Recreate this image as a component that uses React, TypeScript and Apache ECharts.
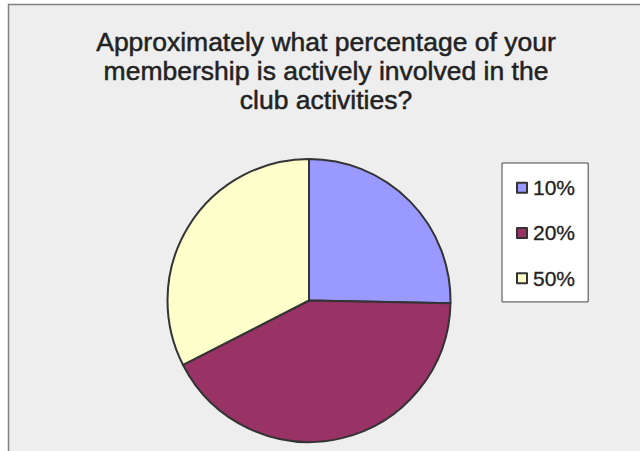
import React, { useEffect, useRef } from "react";
import * as echarts from "echarts";

const categories = ["10%", "20%", "50%"];
const counts = [21, 35, 27];
const colors = ["#9999ff", "#993366", "#ffffcc"];
const titleLines = [
  "Approximately what percentage of your",
  "membership is actively involved in the",
  "club activities?",
];

export default function App() {
  const ref = useRef<HTMLDivElement>(null);
  useEffect(() => {
    if (!ref.current) return;
    const chart = echarts.init(ref.current, undefined, { renderer: "svg" });
    chart.setOption({
      animation: false,
      backgroundColor: "#ffffff",
      title: {
        text: titleLines.join("\n"),
        left: 321,
        top: 22,
        textAlign: "center",
        textStyle: {
          fontFamily: "Liberation Sans, Arial, sans-serif",
          fontSize: 26.5,
          fontWeight: "normal",
          lineHeight: 29,
          color: "#222222",
          textBorderColor: "#222222",
          textBorderWidth: 0.5,
        },
      },
      graphic: [
        {
          type: "rect",
          z: -10,
          silent: true,
          shape: { x: 8.5, y: 4.5, width: 700, height: 500 },
          style: { fill: "#eeeeee", stroke: "#808080", lineWidth: 1.5 },
        },
      ],
      legend: {
        orient: "vertical",
        left: 502,
        top: 163,
        padding: [14, 13, 13, 14],
        backgroundColor: "#ffffff",
        borderColor: "#444444",
        borderWidth: 1,
        itemWidth: 10,
        itemHeight: 10,
        itemGap: 24,
        icon: "rect",
        itemStyle: { borderColor: "#333333", borderWidth: 2 },
        textStyle: {
          fontFamily: "Liberation Sans, Arial, sans-serif",
          fontSize: 21,
          color: "#222222",
          textBorderColor: "#222222",
          textBorderWidth: 0.3,
          padding: [0, 0, 0, 1],
        },
        data: categories,
      },
      series: [
        {
          type: "pie",
          center: [309, 300.5],
          radius: 141.5,
          startAngle: 90,
          clockwise: true,
          label: { show: false },
          labelLine: { show: false },
          emphasis: { disabled: true },
          itemStyle: { borderColor: "#333333", borderWidth: 2 },
          data: categories.map((c, i) => ({
            name: c,
            value: counts[i],
            itemStyle: { color: colors[i] },
          })),
        },
      ],
    });
    return () => chart.dispose();
  }, []);
  return (
    <div
      ref={ref}
      style={{ position: "fixed", left: 0, top: 0, width: 640, height: 451 }}
    />
  );
}
